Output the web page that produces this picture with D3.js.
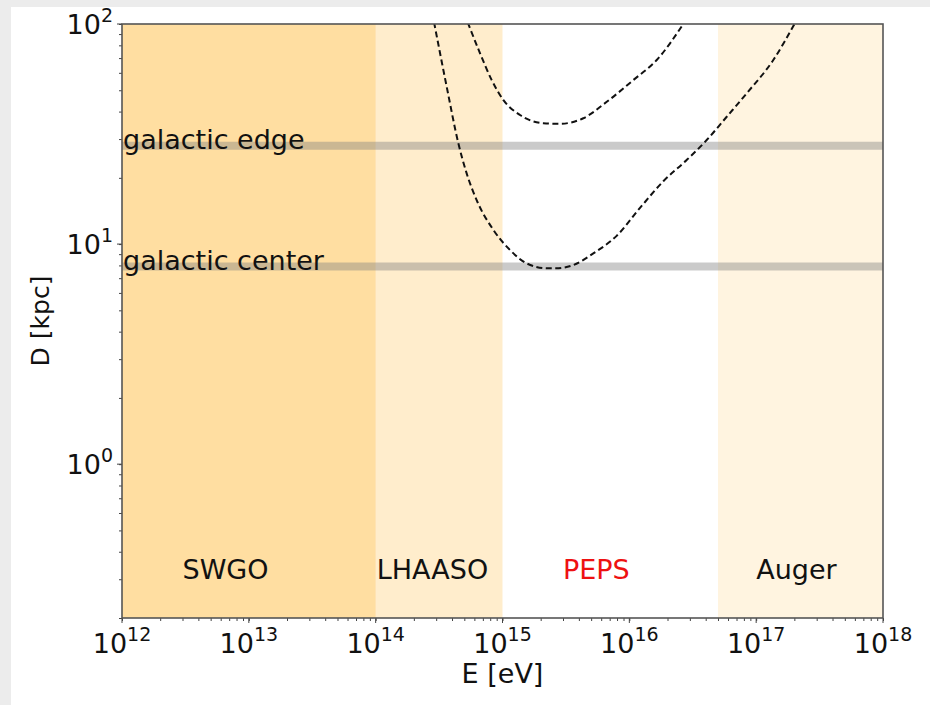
<!DOCTYPE html>
<html>
<head>
<meta charset="utf-8">
<script src="https://cdn.jsdelivr.net/npm/d3@7"></script>
<style>
  body { margin: 0; background: #ececec; }
  svg { display: block; font-family: "DejaVu Sans", sans-serif; }
</style>
</head>
<body>
<svg class="chart"></svg>
<script>
// energy ranges covered by each experiment [eV]
var experiments = ["SWGO", "LHAASO", "PEPS", "Auger"];
var expStart = [1e12, 1e14, 1e15, 5e16];
var expEnd = [1e14, 1e15, 5e16, 1e18];
var expLabelE = [3e12, 1.02e14, 3e15, 1e17];
var expLabelD = 0.3;

// reference distances [kpc]
var refNames = ["galactic edge", "galactic center"];
var refD = [28, 7.9];

// dashed curves: log10(E/eV) and D [kpc]
var lowLogE = [14.46, 14.56, 14.652, 14.718, 14.797, 14.928, 15.059, 15.191, 15.349, 15.42, 15.558, 15.716, 15.90, 16.084, 16.268, 16.452, 16.61, 16.768, 16.925, 17.135, 17.31];
var lowD = [102, 51.9, 28.7, 20.9, 15.8, 11.6, 9.4, 8.17, 7.76, 7.76, 8.03, 9.07, 10.9, 14.6, 19.3, 24.1, 29.7, 37.9, 48.4, 68.6, 102];
var highLogE = [14.725, 14.823, 14.915, 15.006, 15.138, 15.322, 15.45, 15.637, 15.822, 16.031, 16.216, 16.435];
var highD = [102, 73.6, 55.6, 45.2, 38.6, 35.4, 35.2, 37.3, 44.3, 55.6, 68.6, 102];

var xTicks = [1e12, 1e13, 1e14, 1e15, 1e16, 1e17, 1e18];
var yTicks = [1, 10, 100];

var fill = { SWGO: "rgba(255,165,0,0.37)", LHAASO: "rgba(255,165,0,0.2)", PEPS: "none", Auger: "rgba(255,165,0,0.12)" };
var labelColor = { SWGO: "#111", LHAASO: "#111", PEPS: "#ee1111", Auger: "#111" };

var margin = {top: 24, right: 47, bottom: 87, left: 122},
    width = 930 - margin.left - margin.right,
    height = 705 - margin.top - margin.bottom;

var x = d3.scaleLog().domain([1e12, 1e18]).range([0, width]);
var y = d3.scaleLog().domain([0.2, 100]).range([height, 0]);

var svg = d3.select(".chart")
    .attr("width", 930)
    .attr("height", 705);

svg.append("rect")
    .attr("x", 11).attr("y", 7)
    .attr("width", 919).attr("height", 698)
    .attr("fill", "#fff");

var chart = svg.append("g")
    .attr("transform", "translate(" + margin.left + "," + margin.top + ")");

chart.append("clipPath").attr("id", "clip")
  .append("rect").attr("width", width).attr("height", height);

// experiment bands
chart.selectAll(".band")
    .data(experiments)
    .enter().append("rect")
    .attr("class", "band")
    .attr("x", function(d, i) { return x(expStart[i]); })
    .attr("width", function(d, i) { return x(expEnd[i]) - x(expStart[i]); })
    .attr("y", 0)
    .attr("height", height)
    .attr("fill", function(d) { return fill[d]; });

// reference lines
chart.selectAll(".ref")
    .data(refD)
    .enter().append("line")
    .attr("x1", 0).attr("x2", width)
    .attr("y1", function(d) { return y(d); })
    .attr("y2", function(d) { return y(d); })
    .attr("stroke", "rgba(128,128,128,0.42)")
    .attr("stroke-width", 8);

chart.selectAll(".reflabel")
    .data(refNames)
    .enter().append("text")
    .attr("x", 1)
    .attr("y", function(d, i) { return y(refD[i]) + 3; })
    .style("font-size", "27px")
    .attr("fill", "#111")
    .text(function(d) { return d; });

// curves
var line = d3.line()
    .x(function(d) { return x(Math.pow(10, d[0])); })
    .y(function(d) { return y(d[1]); })
    .curve(d3.curveMonotoneX);

[[lowLogE, lowD], [highLogE, highD]].forEach(function(c) {
  chart.append("path")
      .datum(c[0].map(function(e, i) { return [e, c[1][i]]; }))
      .attr("clip-path", "url(#clip)")
      .attr("d", line)
      .attr("fill", "none")
      .attr("stroke", "#111")
      .attr("stroke-width", 2)
      .attr("stroke-dasharray", "6,3.5");
});

// experiment labels
chart.selectAll(".explabel")
    .data(experiments)
    .enter().append("text")
    .attr("x", function(d, i) { return x(expLabelE[i]); })
    .attr("y", y(expLabelD))
    .style("font-size", "27px")
    .attr("fill", function(d) { return labelColor[d]; })
    .text(function(d) { return d; });

// axes
var xAxis = d3.axisBottom(x).tickValues(x.ticks()).tickSize(3).tickFormat("");
var yAxis = d3.axisLeft(y).tickValues(y.ticks()).tickSize(3).tickFormat("");

chart.append("g")
    .attr("class", "x axis")
    .attr("transform", "translate(0," + height + ")")
    .call(xAxis);
chart.append("g")
    .attr("class", "y axis")
    .call(yAxis);

chart.selectAll(".axis .domain").remove();
chart.selectAll(".axis line").attr("stroke", "#444");

chart.selectAll(".xmajor")
    .data(xTicks)
    .enter().append("line")
    .attr("x1", function(d) { return x(d); }).attr("x2", function(d) { return x(d); })
    .attr("y1", height).attr("y2", height + 5)
    .attr("stroke", "#444");
chart.selectAll(".ymajor")
    .data(yTicks)
    .enter().append("line")
    .attr("y1", function(d) { return y(d); }).attr("y2", function(d) { return y(d); })
    .attr("x1", 0).attr("x2", -5)
    .attr("stroke", "#444");

chart.append("rect")
    .attr("width", width).attr("height", height)
    .attr("fill", "none")
    .attr("stroke", "#555")
    .attr("stroke-width", 1.6);

// tick labels
var xl = chart.selectAll(".xtl")
    .data(xTicks)
    .enter().append("text")
    .attr("x", function(d) { return x(d); })
    .attr("y", height + 35)
    .attr("text-anchor", "middle")
    .style("font-size", "27px")
    .attr("fill", "#111");
xl.append("tspan").text("10");
xl.append("tspan").attr("dy", -12).style("font-size", "19px")
    .text(function(d) { return Math.round(Math.log10(d)); });

var yl = chart.selectAll(".ytl")
    .data(yTicks)
    .enter().append("text")
    .attr("x", -9)
    .attr("y", function(d) { return y(d) + 10; })
    .attr("text-anchor", "end")
    .style("font-size", "27px")
    .attr("fill", "#111");
yl.append("tspan").text("10");
yl.append("tspan").attr("dy", -12).style("font-size", "19px")
    .text(function(d) { return Math.round(Math.log10(d)); });

// axis titles
chart.append("text")
    .attr("x", width / 2)
    .attr("y", height + 65)
    .attr("text-anchor", "middle")
    .style("font-size", "27px")
    .attr("fill", "#111")
    .text("E [eV]");

chart.append("text")
    .attr("transform", "translate(" + (-73) + "," + (height / 2) + ") rotate(-90)")
    .attr("text-anchor", "middle")
    .style("font-size", "25px")
    .attr("fill", "#111")
    .text("D [kpc]");
</script>
</body>
</html>
